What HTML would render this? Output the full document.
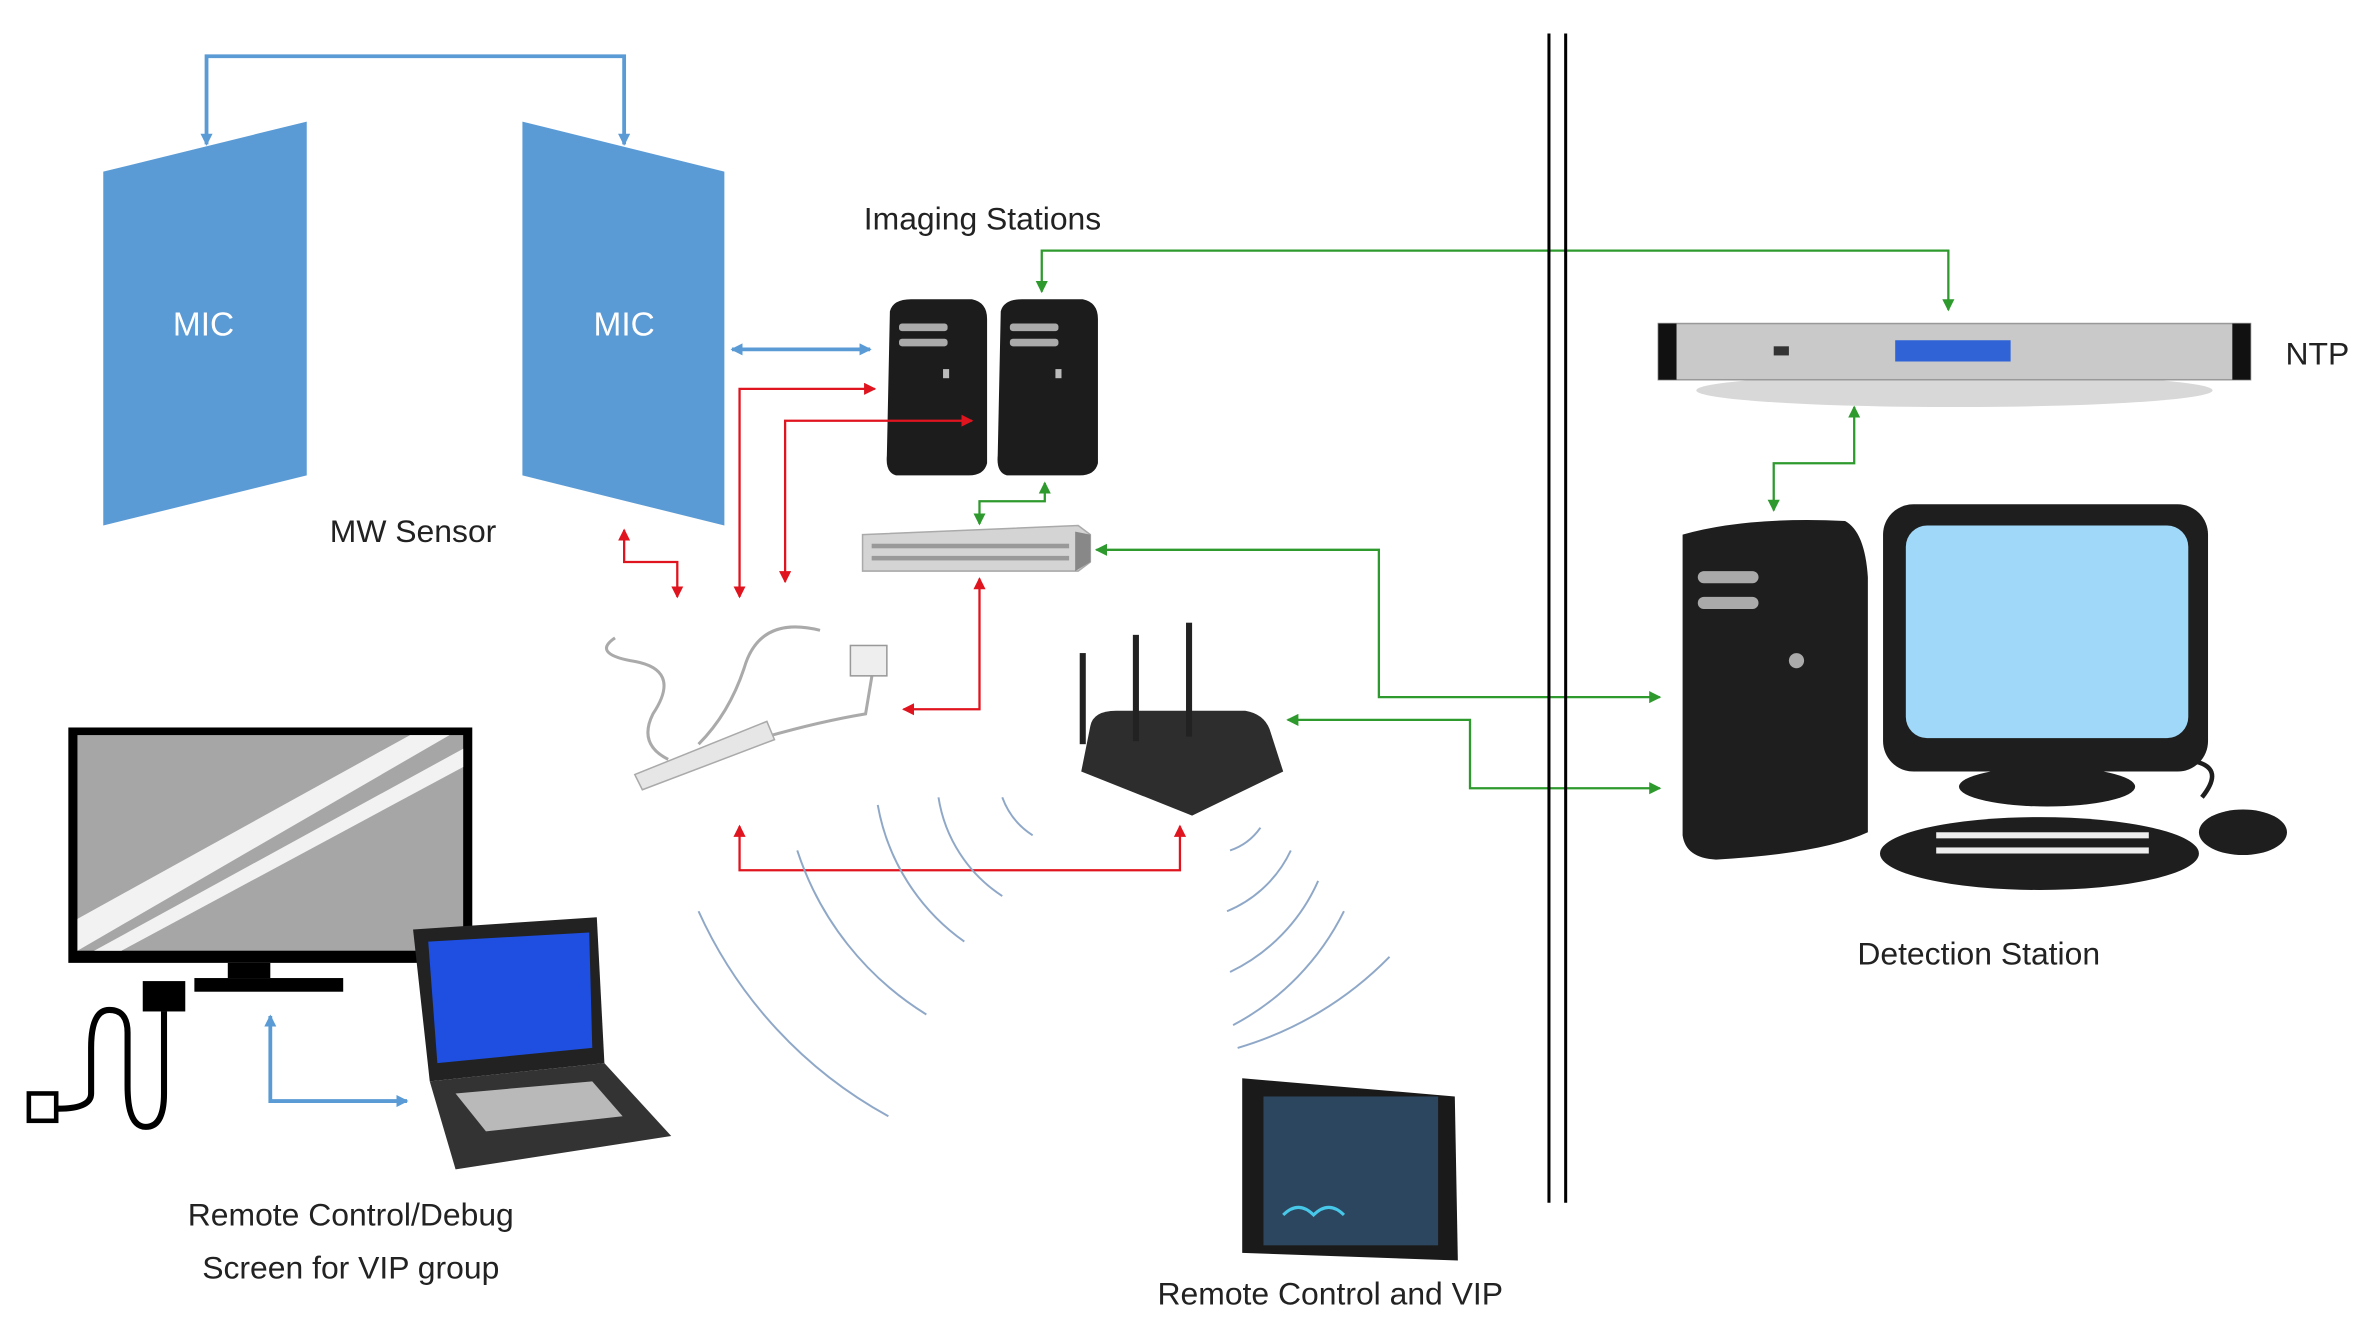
<!DOCTYPE html>
<html><head><meta charset="utf-8"><style>
html,body{margin:0;padding:0;background:#fff;}
svg{display:block;}
text{font-family:"Liberation Sans",sans-serif;}
</style></head><body>
<svg width="2369" height="1335" viewBox="0 0 1560 879" xmlns="http://www.w3.org/2000/svg">
<defs>
<marker id="ab" markerWidth="8" markerHeight="8" refX="7" refY="4" orient="auto" markerUnits="userSpaceOnUse"><path d="M0,0 L8,4 L0,8 z" fill="#5b9bd5"/></marker>
<marker id="abs" markerWidth="8" markerHeight="8" refX="1" refY="4" orient="auto" markerUnits="userSpaceOnUse"><path d="M8,0 L0,4 L8,8 z" fill="#5b9bd5"/></marker>
<marker id="ar" markerWidth="8" markerHeight="8" refX="7" refY="4" orient="auto" markerUnits="userSpaceOnUse"><path d="M0,0 L8,4 L0,8 z" fill="#e0141e"/></marker>
<marker id="ars" markerWidth="8" markerHeight="8" refX="1" refY="4" orient="auto" markerUnits="userSpaceOnUse"><path d="M8,0 L0,4 L8,8 z" fill="#e0141e"/></marker>
<marker id="ag" markerWidth="8" markerHeight="8" refX="7" refY="4" orient="auto" markerUnits="userSpaceOnUse"><path d="M0,0 L8,4 L0,8 z" fill="#2e9a2e"/></marker>
<marker id="ags" markerWidth="8" markerHeight="8" refX="1" refY="4" orient="auto" markerUnits="userSpaceOnUse"><path d="M8,0 L0,4 L8,8 z" fill="#2e9a2e"/></marker>
</defs>

<polygon points="68,113 202,80 202,313 68,346" fill="#5b9bd5"/>
<polygon points="344,80 477,113 477,346 344,313" fill="#5b9bd5"/>
<text x="134" y="221" font-size="22" fill="#fff" text-anchor="middle">MIC</text>
<text x="411" y="221" font-size="22" fill="#fff" text-anchor="middle">MIC</text>
<polyline points="136,95 136,37 411,37 411,95" fill="none" stroke="#5b9bd5" stroke-width="2.5" marker-start="url(#abs)" marker-end="url(#ab)"/>
<text x="272" y="357" font-size="21" fill="#222" text-anchor="middle">MW Sensor</text>
<text x="647" y="151" font-size="21" fill="#222" text-anchor="middle">Imaging Stations</text>

<g>
<path d="M586,205 Q588,197 600,197 L640,197 Q650,199 650,210 L650,305 Q648,313 638,313 L590,313 Q583,311 584,300 Z" fill="#1c1c1c"/>
<rect x="592" y="213" width="32" height="5" rx="2" fill="#aaa"/><rect x="592" y="223" width="32" height="5" rx="2" fill="#aaa"/>
<rect x="621" y="243" width="4" height="6" fill="#bbb"/>
<path d="M659,205 Q661,197 673,197 L713,197 Q723,199 723,210 L723,305 Q721,313 711,313 L663,313 Q656,311 657,300 Z" fill="#1c1c1c"/>
<rect x="665" y="213" width="32" height="5" rx="2" fill="#aaa"/><rect x="665" y="223" width="32" height="5" rx="2" fill="#aaa"/>
<rect x="695" y="243" width="4" height="6" fill="#bbb"/>
</g>
<line x1="482" y1="230" x2="573" y2="230" stroke="#5b9bd5" stroke-width="2.5" marker-start="url(#abs)" marker-end="url(#ab)"/>

<g fill="none" stroke="#e0141e" stroke-width="1.5">
<polyline points="487,393 487,256 576,256" marker-start="url(#ars)" marker-end="url(#ar)"/>
<polyline points="517,383 517,277 640,277" marker-start="url(#ars)" marker-end="url(#ar)"/>
<polyline points="411,349 411,370 446,370 446,393" marker-start="url(#ars)" marker-end="url(#ar)"/>
<polyline points="645,381 645,467 595,467" marker-start="url(#ars)" marker-end="url(#ar)"/>
<polyline points="487,544 487,573 777,573 777,544" marker-start="url(#ars)" marker-end="url(#ar)"/>
</g>

<polygon points="568,352 710,346 718,352 718,370 710,376 568,376" fill="#d4d4d4" stroke="#aaa" stroke-width="1"/>
<polygon points="708,350 718,352 718,370 708,376" fill="#888"/>
<g fill="#999"><rect x="574" y="358" width="130" height="3"/><rect x="574" y="366" width="130" height="3"/></g>

<g fill="none" stroke="#2e9a2e" stroke-width="1.5">
<polyline points="686,192 686,165 1283,165 1283,204" marker-start="url(#ags)" marker-end="url(#ag)"/>
<polyline points="688,318 688,330 645,330 645,345" marker-start="url(#ags)" marker-end="url(#ag)"/>
<polyline points="722,362 908,362 908,459 1093,459" marker-start="url(#ags)" marker-end="url(#ag)"/>
<polyline points="848,474 968,474 968,519 1093,519" marker-start="url(#ags)" marker-end="url(#ag)"/>
<polyline points="1221,268 1221,305 1168,305 1168,336" marker-start="url(#ags)" marker-end="url(#ag)"/>
</g>

<line x1="1020" y1="22" x2="1020" y2="792" stroke="#000" stroke-width="2"/>
<line x1="1031" y1="22" x2="1031" y2="792" stroke="#000" stroke-width="2"/>

<ellipse cx="1287" cy="257" rx="170" ry="11" fill="#c8c8c8" opacity="0.7"/>
<rect x="1092" y="213" width="390" height="37" fill="#c9c9c9" stroke="#999"/>
<rect x="1092" y="213" width="12" height="37" fill="#111"/><rect x="1470" y="213" width="12" height="37" fill="#111"/>
<rect x="1248" y="224" width="76" height="14" fill="#2f63d6"/>
<rect x="1168" y="228" width="10" height="6" fill="#333"/>
<text x="1526" y="240" font-size="21" fill="#222" text-anchor="middle">NTP</text>

<path d="M1108,352 Q1150,340 1215,343 Q1228,350 1230,380 L1230,548 Q1200,562 1130,566 Q1110,565 1108,550 Z" fill="#1e1e1e"/>
<rect x="1118" y="376" width="40" height="8" rx="4" fill="#aaa"/><rect x="1118" y="393" width="40" height="8" rx="4" fill="#aaa"/>
<circle cx="1183" cy="435" r="5" fill="#aaa"/>
<rect x="1240" y="332" width="214" height="176" rx="20" fill="#1e1e1e"/>
<rect x="1255" y="346" width="186" height="140" rx="14" fill="#9fd8f8"/>
<rect x="1334" y="506" width="28" height="20" fill="#1e1e1e"/>
<ellipse cx="1348" cy="518" rx="58" ry="13" fill="#1e1e1e"/>
<ellipse cx="1343" cy="562" rx="105" ry="24" fill="#1e1e1e"/>
<g fill="#eee"><rect x="1275" y="548" width="140" height="4"/><rect x="1275" y="558" width="140" height="4"/></g>
<ellipse cx="1477" cy="548" rx="29" ry="15" fill="#1e1e1e"/>
<path d="M1430,500 Q1470,500 1450,525" fill="none" stroke="#1e1e1e" stroke-width="3"/>
<text x="1303" y="635" font-size="21" fill="#222" text-anchor="middle">Detection Station</text>

<g fill="none" stroke="#aaa" stroke-width="2">
<path d="M405,420 Q390,430 415,435 Q450,440 430,470 Q420,490 440,500"/>
<path d="M540,415 Q500,405 490,440 Q480,470 460,490"/>
<path d="M575,440 L570,470 Q540,475 505,485"/>
</g>
<rect x="560" y="425" width="24" height="20" fill="#eee" stroke="#999"/>
<polygon points="418,510 505,475 510,487 423,520" fill="#e6e6e6" stroke="#aaa"/>

<path d="M718,478 Q720,468 735,468 L820,468 Q832,470 836,480 L845,508 L785,537 L712,508 Z" fill="#2d2d2d"/>
<rect x="711" y="430" width="4" height="60" fill="#222"/>
<rect x="746" y="418" width="4" height="70" fill="#222"/>
<rect x="781" y="410" width="4" height="75" fill="#222"/>

<g fill="none" stroke="#8fa8c8" stroke-width="1.3">
<path d="M660,525 A50,50 0 0 0 680,550"/>
<path d="M618,525 A95,95 0 0 0 660,590"/>
<path d="M578,530 A140,140 0 0 0 635,620"/>
<path d="M525,560 A200,200 0 0 0 610,668"/>
<path d="M460,600 A290,290 0 0 0 585,735"/>
<path d="M830,545 A40,40 0 0 1 810,560"/>
<path d="M850,560 A80,80 0 0 1 808,600"/>
<path d="M868,580 A120,120 0 0 1 810,640"/>
<path d="M885,600 A170,170 0 0 1 812,675"/>
<path d="M915,630 A230,230 0 0 1 815,690"/>
</g>

<rect x="45" y="479" width="266" height="155" fill="#000"/>
<rect x="51" y="484" width="254" height="142" fill="#a6a6a6"/>
<polygon points="51,605 270,484 296,484 51,626" fill="#f2f2f2"/>
<polygon points="62,626 305,493 305,505 80,626" fill="#f2f2f2"/>
<rect x="150" y="634" width="28" height="10" fill="#000"/>
<rect x="128" y="644" width="98" height="9" fill="#000"/>
<rect x="94" y="646" width="28" height="20" fill="#000"/>
<path d="M108,666 L108,720 Q108,742 96,742 Q84,742 84,715 L84,680 Q84,665 72,665 Q60,665 60,690 L60,720 Q60,730 38,730" fill="none" stroke="#000" stroke-width="4"/>
<rect x="19" y="720" width="18" height="18" fill="none" stroke="#000" stroke-width="3"/>
<polyline points="178,669 178,725 268,725" fill="none" stroke="#5b9bd5" stroke-width="2.5" marker-start="url(#abs)" marker-end="url(#ab)"/>

<polygon points="272,612 393,604 398,700 283,712" fill="#222"/>
<polygon points="282,620 388,614 390,690 288,700" fill="#1e4fe0"/>
<polygon points="283,712 398,700 442,748 300,770" fill="#333"/>
<polygon points="300,720 390,712 410,735 320,745" fill="#b9b9b9"/>

<polygon points="818,710 958,722 960,830 818,825" fill="#1a1a1a"/>
<rect x="832" y="722" width="115" height="98" fill="#2c4660"/>
<path d="M845,800 Q855,790 865,800 Q875,790 885,800" stroke="#48c8e8" stroke-width="2" fill="none"/>

<text x="231" y="807" font-size="21" fill="#222" text-anchor="middle">Remote Control/Debug</text>
<text x="231" y="842" font-size="21" fill="#222" text-anchor="middle">Screen for VIP group</text>
<text x="876" y="859" font-size="21" fill="#222" text-anchor="middle">Remote Control and VIP</text>
</svg>
</body></html>
